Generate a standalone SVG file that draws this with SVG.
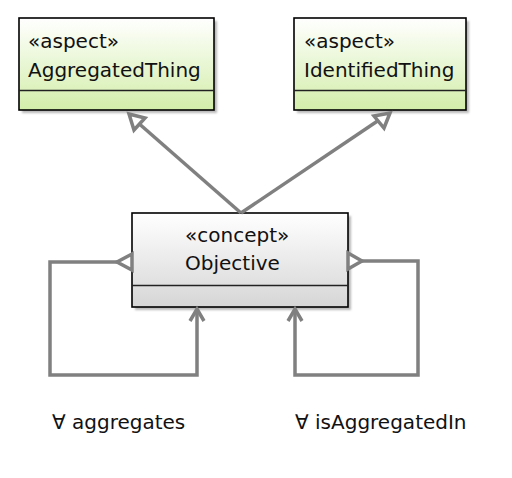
<svg xmlns="http://www.w3.org/2000/svg" width="512" height="478" viewBox="0 0 512 478">
<defs>
<linearGradient id="gGreen" x1="0" y1="0" x2="0" y2="1">
<stop offset="0" stop-color="#ffffff"/>
<stop offset="1" stop-color="#d3eeaa"/>
</linearGradient>
<linearGradient id="gGrey" x1="0" y1="0" x2="0" y2="1">
<stop offset="0" stop-color="#ffffff"/>
<stop offset="1" stop-color="#d6d6d6"/>
</linearGradient>
<filter id="sh" x="-10%" y="-10%" width="130%" height="130%">
<feGaussianBlur stdDeviation="1.2"/>
</filter>
</defs>
<style>
.shadow{fill:#b8b8b8;filter:url(#sh)}
.box{stroke:#000;stroke-width:1.6}
.div{stroke:#222;stroke-width:1.3}
.t{font-family:"DejaVu Sans",sans-serif;font-size:20px;fill:#111}
.c{fill:none;stroke:#808080;stroke-width:3.5;stroke-linejoin:miter}
.h{fill:#fff;stroke:#808080;stroke-width:3.5;stroke-linejoin:miter}
</style>
<g id="AggregatedThing">
<rect class="shadow" x="22" y="21" width="195" height="92"/>
<rect class="box" x="19" y="18" width="195" height="92" fill="url(#gGreen)"/>
<line class="div" x1="19" y1="90.5" x2="214" y2="90.5"/>
<text class="t" x="28" y="48">«aspect»</text>
<text class="t" x="28" y="77">AggregatedThing</text>
</g>
<g id="IdentifiedThing">
<rect class="shadow" x="297" y="21" width="172" height="92"/>
<rect class="box" x="294" y="18" width="172" height="92" fill="url(#gGreen)"/>
<line class="div" x1="294" y1="90.5" x2="466" y2="90.5"/>
<text class="t" x="304" y="48">«aspect»</text>
<text class="t" x="304" y="77">IdentifiedThing</text>
</g>
<g id="Objective">
<rect class="shadow" x="135" y="216" width="216" height="94"/>
<rect class="box" x="132" y="213" width="216" height="94" fill="url(#gGrey)"/>
<line class="div" x1="132" y1="285.5" x2="348" y2="285.5"/>
<text class="t" x="185" y="242">«concept»</text>
<text class="t" x="185" y="270">Objective</text>
</g>
<g id="connectors">
<polyline class="c" points="241,213 136,121"/>
<polygon class="h" points="129,114 145,118 134,130"/>
<polyline class="c" points="241,213 382,118"/>
<polygon class="h" points="390,113 384,128 374,116"/>
<polyline class="c" points="117,262 50,262 50,375 197,375 197,309"/>
<polygon class="h" points="132,254 117,262 132,270"/>
<polyline class="c" points="190,321 197,309 204,321"/>
<polyline class="c" points="362,261 418,261 418,375 295,375 295,309"/>
<polygon class="h" points="348,253 362,261 348,269"/>
<polyline class="c" points="288,321 295,309 302,321"/>
<text class="t" x="52" y="429">∀ aggregates</text>
<text class="t" x="295" y="429">∀ isAggregatedIn</text>
</g>
</svg>
